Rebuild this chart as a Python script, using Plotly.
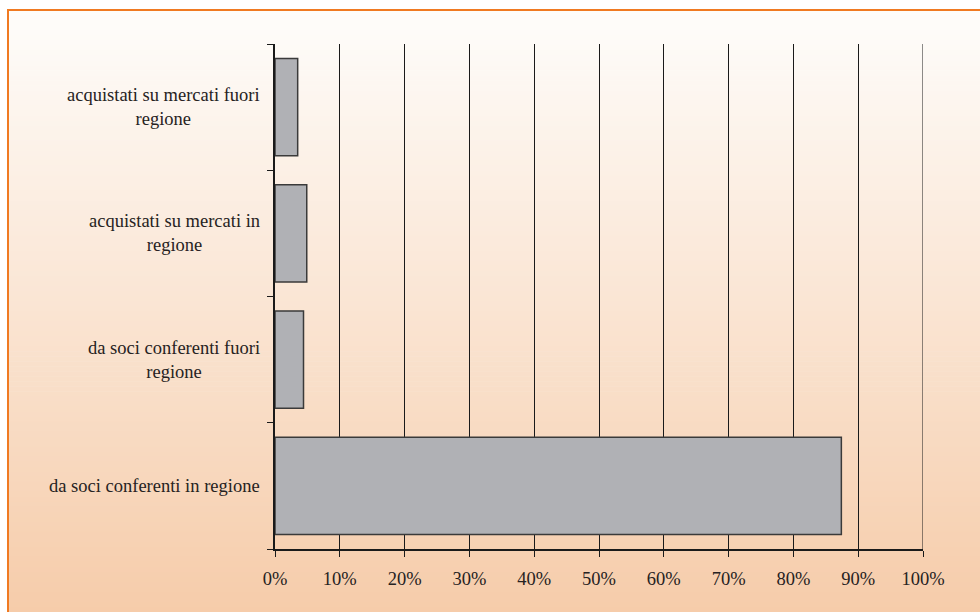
import plotly.graph_objects as go

# Origin of the product (share of total), bottom category first
categories = [
    "da soci conferenti in regione",
    "da soci conferenti fuori<br>regione",
    "acquistati su mercati in<br>regione",
    "acquistati su mercati fuori<br>regione",
]
shares = [87.4, 4.4, 4.9, 3.5]
x_ticks = list(range(0, 101, 10))
x_tick_labels = [f"{v}%" for v in x_ticks]

W, H = 980, 612
FONT = "Liberation Serif"
TEXT = "#262222"
FS = 18.5
GRID = "#1a1a1a"

# plot area in pixels
px_left, px_right, px_top, px_bottom = 275, 923, 44, 549

fig = go.Figure()
fig.add_trace(go.Bar(
    x=shares,
    y=list(range(len(categories))),
    orientation="h",
    marker=dict(color="#b0b1b5", line=dict(color="#3a3a3a", width=1.5)),
    hoverinfo="skip",
))

# vertical gradient panel framed by an orange border
shapes = []
top_c = (254, 253, 251)
bot_c = (246, 204, 170)
y0px, y1px = 10, H
n = 120
for i in range(n):
    a = y0px + (y1px - y0px) * i / n
    b = y0px + (y1px - y0px) * (i + 1) / n
    t = (i + 0.5) / n
    c = tuple(round(top_c[k] + (bot_c[k] - top_c[k]) * t) for k in range(3))
    shapes.append(dict(
        type="rect", xref="paper", yref="paper", layer="below",
        x0=8 / W, x1=1.0, y0=1 - (b + 0.6) / H, y1=1 - a / H,
        fillcolor=f"rgb{c}", line=dict(width=0),
    ))
shapes.append(dict(
    type="rect", xref="paper", yref="paper", layer="below",
    x0=8 / W, x1=1.02, y0=-0.02, y1=1 - 10 / H,
    fillcolor="rgba(0,0,0,0)", line=dict(color="#f07a22", width=2),
))
# gridline at the end of the range (plotly skips grid at the edge)
shapes.append(dict(
    type="line", xref="x", yref="y domain", layer="below",
    x0=x_ticks[-1], x1=x_ticks[-1], y0=0, y1=1,
    line=dict(color=GRID, width=1),
))

# centred, wrapped category labels to the left of the axis
annotations = []
for i, cat in enumerate(categories):
    annotations.append(dict(
        x=(px_left - 13) / W, xref="paper", xanchor="right",
        y=i, yref="y", yanchor="middle",
        text=cat, showarrow=False, align="center",
        font=dict(family=FONT, size=FS, color=TEXT),
    ))

fig.update_layout(
    width=W, height=H,
    margin=dict(l=0, r=0, t=0, b=0, autoexpand=False),
    paper_bgcolor="white",
    plot_bgcolor="rgba(0,0,0,0)",
    bargap=0.23,
    showlegend=False,
    shapes=shapes,
    annotations=annotations,
    font=dict(family=FONT, size=FS, color=TEXT),
    xaxis=dict(
        domain=[px_left / W, px_right / W],
        range=[0, x_ticks[-1]],
        tickvals=x_ticks, ticktext=x_tick_labels,
        showgrid=True, gridcolor=GRID, gridwidth=1,
        showline=True, linecolor=GRID, linewidth=1.5,
        ticks="outside", ticklen=6, tickcolor=GRID,
        ticklabelstandoff=6,
        zeroline=False, fixedrange=True, automargin=False,
    ),
    yaxis=dict(
        domain=[1 - px_bottom / H, 1 - px_top / H],
        range=[-0.5, len(categories) - 0.5],
        tickvals=[i - 0.5 for i in range(len(categories) + 1)],
        showticklabels=False,
        showgrid=False,
        showline=True, linecolor=GRID, linewidth=1.5,
        ticks="outside", ticklen=6, tickcolor=GRID,
        zeroline=False, fixedrange=True, automargin=False,
    ),
)

fig.write_html("out.html")
